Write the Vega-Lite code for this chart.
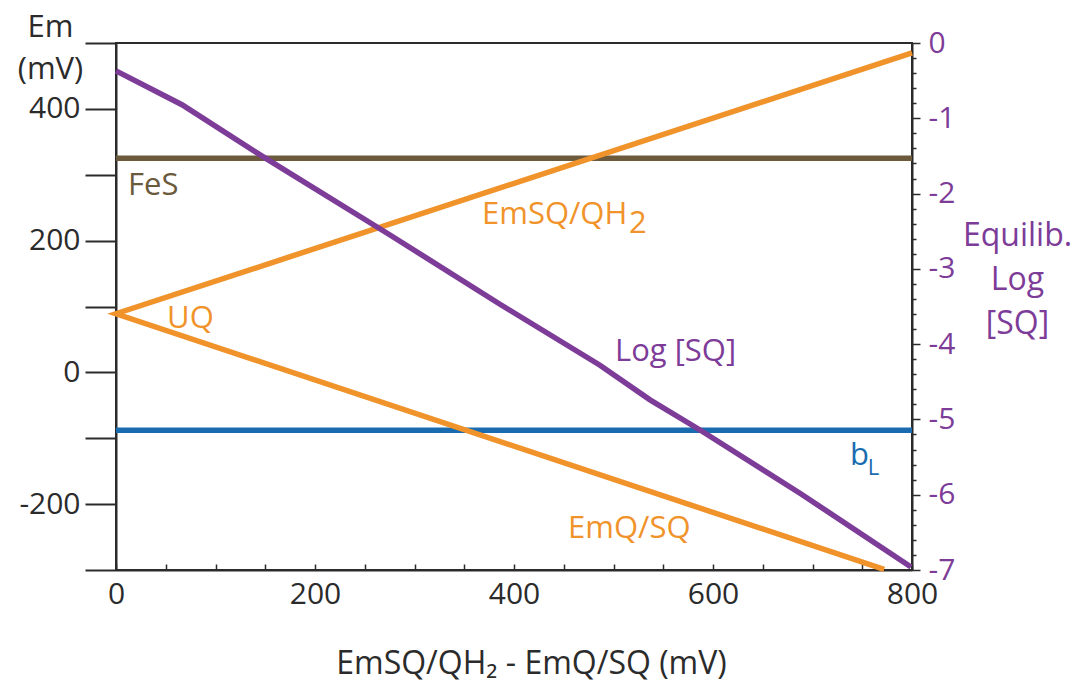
{
  "$schema": "https://vega.github.io/schema/vega-lite/v6.json",
  "width": 796,
  "height": 527,
  "autosize": "none",
  "padding": {"left": 116, "top": 43, "right": 172, "bottom": 116},
  "background": "white",
  "config": {
    "view": {"stroke": "#2b2b2b", "strokeWidth": 2},
    "font": "Open Sans",
    "axis": {"grid": false, "labelFont": "Open Sans", "titleFont": "Open Sans", "titleFontWeight": "normal", "labelFlush": false}
  },
  "datasets": {
    "lines": [
      {"series": "FeS", "i": 0, "x": 0, "y": 325},
      {"series": "FeS", "i": 1, "x": 800, "y": 325},
      {"series": "bL", "i": 0, "x": 0, "y": -88},
      {"series": "bL", "i": 1, "x": 800, "y": -88},
      {"series": "UQ", "i": 0, "x": 800, "y": 485},
      {"series": "UQ", "i": 1, "x": 0, "y": 89},
      {"series": "UQ", "i": 2, "x": 772, "y": -299}
    ],
    "logsq": [
      {"x": 0, "log": -0.37},
      {"x": 66.3, "log": -0.82},
      {"x": 147.7, "log": -1.51},
      {"x": 275.4, "log": -2.55},
      {"x": 385.9, "log": -3.47},
      {"x": 486.4, "log": -4.28},
      {"x": 536.7, "log": -4.74},
      {"x": 587.0, "log": -5.14},
      {"x": 687.4, "log": -5.98},
      {"x": 799, "log": -6.96}
    ],
    "labels": [
      {"label": "FeS", "series": "FeS", "x": 12.1, "y": 268.8},
      {"label": "EmSQ/QH", "series": "UQ", "x": 367.8, "y": 224.9},
      {"label": "2", "series": "UQ", "x": 515.6, "y": 211.2},
      {"label": "UQ", "series": "UQ", "x": 51.3, "y": 67.2},
      {"label": "Log [SQ]", "series": "SQ", "x": 501.5, "y": 17.1},
      {"label": "EmQ/SQ", "series": "UQ", "x": 454.3, "y": -251},
      {"label": "b", "series": "bL", "x": 737.7, "y": -140.6}
    ],
    "sublabels": [
      {"label": "L", "series": "bL", "x": 755.5, "y": -155.7}
    ]
  },
  "layer": [
    {
      "data": {"name": "lines"},
      "mark": {"type": "line", "strokeWidth": 5.5, "strokeJoin": "miter", "clip": false},
      "encoding": {
        "x": {
          "field": "x", "type": "quantitative",
          "scale": {"domain": [0, 800], "nice": false, "zero": false},
          "axis": {
            "orient": "bottom",
            "values": [0, 50, 100, 150, 200, 250, 300, 350, 400, 450, 500, 550, 600, 650, 700, 750, 800],
            "labelExpr": "datum.value % 200 == 0 ? '' + datum.value : ''",
            "tickSize": -6, "tickColor": "#2b2b2b", "tickWidth": 1.5,
            "domainColor": "#2b2b2b", "domainWidth": 2,
            "labelFontSize": 30, "labelColor": "#2b2b2b", "labelPadding": 15,
            "title": "EmSQ/QH₂ - EmQ/SQ (mV)",
            "titleFontSize": 32, "titleColor": "#2b2b2b",
            "titleX": 415, "titleY": 103, "titleAlign": "center", "titleBaseline": "alphabetic"
          }
        },
        "y": {
          "field": "y", "type": "quantitative",
          "scale": {"domain": [-300, 500], "nice": false, "zero": false},
          "axis": {
            "orient": "left",
            "values": [-300, -200, -100, 0, 100, 200, 300, 400, 500],
            "labelExpr": "datum.value % 200 == 0 ? '' + datum.value : ''",
            "tickSize": 31, "tickColor": "#2b2b2b", "tickWidth": 2,
            "domainColor": "#2b2b2b", "domainWidth": 2,
            "labelFontSize": 30, "labelColor": "#2b2b2b", "labelPadding": 5,
            "title": ["Em", "(mV)"],
            "titleFontSize": 31, "titleColor": "#2b2b2b", "titleAngle": 0,
            "titleX": -66, "titleY": -7, "titleAlign": "center", "titleBaseline": "alphabetic",
            "titleLineHeight": 42
          }
        },
        "detail": {"field": "series"},
        "order": {"field": "i"},
        "color": {
          "field": "series", "type": "nominal",
          "scale": {"domain": ["FeS", "bL", "UQ", "SQ"], "range": ["#6b5a3c", "#1a6cb0", "#f0932b", "#7d3c98"]},
          "legend": null
        }
      }
    },
    {
      "data": {"name": "logsq"},
      "mark": {"type": "line", "strokeWidth": 5.5, "color": "#7d3c98", "clip": false},
      "encoding": {
        "x": {"field": "x", "type": "quantitative"},
        "y": {
          "field": "log", "type": "quantitative",
          "scale": {"domain": [-7, 0], "nice": false, "zero": false},
          "axis": {
            "orient": "right",
            "values": [0, -0.2, -0.4, -0.6, -0.8, -1, -1.2, -1.4, -1.6, -1.8, -2, -2.2, -2.4, -2.6, -2.8, -3, -3.2, -3.4, -3.6, -3.8, -4, -4.2, -4.4, -4.6, -4.8, -5, -5.2, -5.4, -5.6, -5.8, -6, -6.2, -6.4, -6.6, -6.8, -7],
            "labelExpr": "datum.value % 1 == 0 ? '' + datum.value : ''",
            "tickSize": {"condition": {"test": "datum.value % 1 == 0", "value": 8}, "value": 4},
            "tickColor": "#2b2b2b", "tickWidth": 1.5,
            "domainColor": "#2b2b2b", "domainWidth": 2,
            "labelFontSize": 30, "labelColor": "#7d3c98", "labelPadding": 8,
            "title": ["Equilib.", "Log", "[SQ]"],
            "titleFontSize": 32, "titleColor": "#7d3c98", "titleAngle": 0,
            "titleX": 105, "titleY": 202, "titleAlign": "center", "titleBaseline": "alphabetic",
            "titleLineHeight": 44
          }
        }
      }
    },
    {
      "data": {"name": "labels"},
      "mark": {"type": "text", "align": "left", "baseline": "alphabetic", "fontSize": 31, "font": "Open Sans"},
      "encoding": {
        "x": {"field": "x", "type": "quantitative"},
        "y": {"field": "y", "type": "quantitative", "scale": {"domain": [-300, 500], "nice": false, "zero": false}, "axis": null},
        "text": {"field": "label"},
        "color": {"field": "series", "type": "nominal", "legend": null}
      }
    },
    {
      "data": {"name": "sublabels"},
      "mark": {"type": "text", "align": "left", "baseline": "alphabetic", "fontSize": 22, "font": "Open Sans"},
      "encoding": {
        "x": {"field": "x", "type": "quantitative"},
        "y": {"field": "y", "type": "quantitative", "scale": {"domain": [-300, 500], "nice": false, "zero": false}, "axis": null},
        "text": {"field": "label"},
        "color": {"field": "series", "type": "nominal", "legend": null}
      }
    }
  ],
  "resolve": {"scale": {"y": "independent"}}
}
